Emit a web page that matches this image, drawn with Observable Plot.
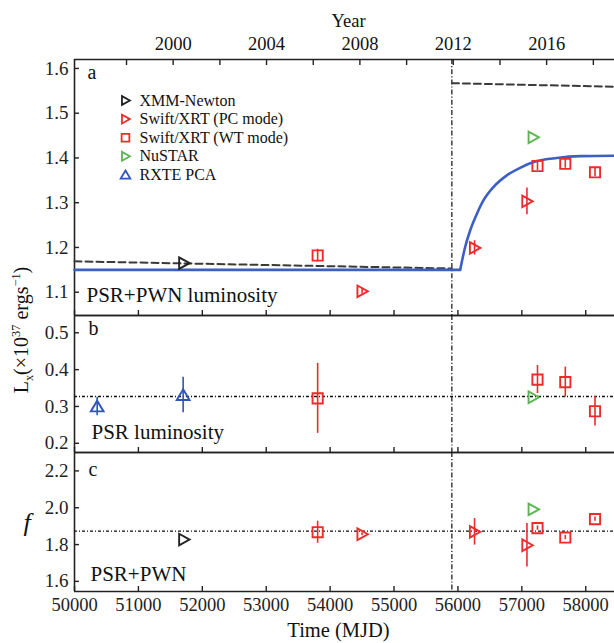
<!DOCTYPE html>
<html><head><meta charset="utf-8">
<script src="https://cdn.jsdelivr.net/npm/d3@7"></script>
<script src="https://cdn.jsdelivr.net/npm/@observablehq/plot@0.6"></script>
<style>
body{margin:0;background:#fff;}
#wrap{position:relative;width:614px;height:643px;font-family:"Liberation Serif",serif;color:#111;overflow:hidden;}
.panel{position:absolute;left:0;}
.lab{position:absolute;white-space:nowrap;font-family:"Liberation Serif",serif;color:#111;}
.sm{font-size:0.62em;}
</style></head><body><div id="wrap"></div>
<script>
// ---------- shared axes ----------
const xDomain = [50000, 58450];
const mjdTicks = [50000, 51000, 52000, 53000, 54000, 55000, 56000, 57000, 58000];
const yearTicks = [1998, 2000, 2002, 2004, 2006, 2008, 2010, 2012, 2014, 2016, 2018];
const yearLabels = [2000, 2004, 2008, 2012, 2016];
const glitchMJD = [55905];

// ---------- observation epochs (MJD) ----------
const xmmT = [51710];
const pcT = [54500, 56260, 57080];
const wtT = [53805, 57245, 57680, 58145];
const nuT = [57178];
const rxteT = [50355, 51700];

// ---------- panel a: PSR+PWN luminosity ----------
const aDomain = [1.048, 1.62];
const aTicks = [1.1, 1.2, 1.3, 1.4, 1.5, 1.6];
const xmmA = [1.165];
const pcA = [1.102, 1.199, 1.303];
const pcAerr = [0.006, 0.016, 0.030];
const wtA = [1.182, 1.382, 1.387, 1.368];
const wtAerr = [0.014, 0.010, 0.010, 0.010];
const nuA = [1.446];
const dashPreT = [50000, 55905];
const dashPreL = [1.169, 1.153];
const dashPostT = [55905, 57200, 58450];
const dashPostL = [1.567, 1.563, 1.559];
const modelFlatT = [50000, 56035];
const modelFlatL = [1.150, 1.150];
const modelRiseT = [56035, 56113, 56191, 56296, 56399, 56556, 56765, 56973, 57234, 57547, 57911, 58450];
const modelRiseL = [1.150, 1.201, 1.238, 1.275, 1.305, 1.335, 1.361, 1.378, 1.393, 1.400, 1.404, 1.405];

// ---------- panel b: PSR luminosity ----------
const bDomain = [0.175, 0.547];
const bTicks = [0.2, 0.3, 0.4, 0.5];
const bRef = [0.327];
const rxteB = [0.300, 0.331];
const rxteBerr = [0.025, 0.048];
const wtB = [0.322, 0.373, 0.366, 0.287];
const wtBerr = [0.095, 0.038, 0.041, 0.040];
const nuB = [0.325];

// ---------- panel c: flux ratio f ----------
const cDomain = [1.545, 2.30];
const cTicks = [1.6, 1.8, 2.0, 2.2];
const cRef = [1.873];
const xmmC = [1.827];
const pcC = [1.856, 1.869, 1.796];
const pcCerr = [0.008, 0.072, 0.118];
const wtC = [1.867, 1.889, 1.838, 1.938];
const wtCerr = [0.060, 0.012, 0.012, 0.012];
const nuC = [1.991];

// ---------- legend ----------
const legendNames = ["XMM-Newton", "Swift/XRT (PC mode)", "Swift/XRT (WT mode)", "NuSTAR", "RXTE PCA"];

// ---------- styling ----------
const RED = "#ee2b2b", GREEN = "#5cb552", BLUE = "#2f55b8", BLACK = "#222", LINEBLUE = "#3b5fc4";
const font = "Liberation Serif";

const triRight = {draw(c, s) { const r = Math.sqrt(s / Math.PI); c.moveTo(r, 0); c.lineTo(-0.8 * r, -r); c.lineTo(-0.8 * r, r); c.closePath(); }};
const triUp = {draw(c, s) { const r = Math.sqrt(s / Math.PI); c.moveTo(0, -r); c.lineTo(1.1 * r, 0.85 * r); c.lineTo(-1.1 * r, 0.85 * r); c.closePath(); }};
const square = {draw(c, s) { const r = Math.sqrt(s / Math.PI) * 0.88; c.rect(-r, -r, 2 * r, 2 * r); }};

const legendSymbols = [triRight, triRight, square, triRight, triUp];
const legendColors = [BLACK, RED, RED, GREEN, BLUE];

const zip = (t, v, e) => t.map((d, i) => ({t: d, v: v[i], e: e ? e[i] : 0}));
const mjdOfYear = y => (Date.UTC(y, 0, 1) - Date.UTC(1858, 10, 17)) / 86400000;

function frameMarks(yDomain) {
  return [
    Plot.ruleX([xDomain[0]], {stroke: BLACK, strokeWidth: 1.6}),
    Plot.ruleY(yDomain, {stroke: BLACK, strokeWidth: 1.6})
  ];
}
function yAxis(ticks, fmt) {
  return Plot.axisY({ticks, tickSize: -5, tickPadding: 11, tickFormat: fmt, label: null, color: BLACK, strokeWidth: 1.4, fontSize: 19});
}
function xAxisBottom(withLabels) {
  return Plot.axisX({anchor: "bottom", ticks: mjdTicks, tickSize: -5, tickPadding: 11,
    tickFormat: withLabels ? (d => String(d)) : (() => ""), label: null, color: BLACK, strokeWidth: 1.4, fontSize: 18.5});
}
function points(data, symbol, color, r) {
  return Plot.dot(data, {x: "t", y: "v", symbol, stroke: color, strokeWidth: 1.9, r: r || 5.8, fill: "none"});
}
function errs(data, color) {
  return Plot.ruleX(data, {x: "t", y1: d => d.v - d.e, y2: d => d.v + d.e, stroke: color, strokeWidth: 1.6});
}
function glitch() {
  return Plot.ruleX(glitchMJD, {stroke: "#111", strokeWidth: 1.2, strokeDasharray: "5,2,1.2,2"});
}
function panelText(s, anchor, dx, dy, size) {
  return Plot.text([s], {frameAnchor: anchor, dx, dy, textAnchor: "start", lineAnchor: "middle", fontSize: size, fill: "#111"});
}
function makePlot(height, marginTop, marginBottom, yDomain, marks) {
  return Plot.plot({
    width: 614, height, marginLeft: 74, marginRight: 0, marginTop, marginBottom,
    x: {domain: xDomain, axis: null},
    y: {domain: yDomain, axis: null},
    style: {fontFamily: font, fontSize: "18px", background: "transparent", overflow: "visible", color: BLACK},
    marks
  });
}

// ---------- panel a ----------
const legendMarks = legendNames.flatMap((name, i) => [
  Plot.dot([0], {frameAnchor: "top-left", dx: 51, dy: 41 + i * 18.6, symbol: legendSymbols[i], stroke: legendColors[i], strokeWidth: 1.8, r: 4.4, fill: "none"}),
  Plot.text([name], {frameAnchor: "top-left", dx: 65, dy: 41 + i * 18.6, textAnchor: "start", lineAnchor: "middle", fontSize: 16, fill: "#111"})
]);

const plotA = makePlot(320, 59, 5, aDomain, [
  ...frameMarks(aDomain),
  yAxis(aTicks, d => d.toFixed(1)),
  xAxisBottom(false),
  Plot.axisX({anchor: "top", ticks: yearTicks.map(mjdOfYear), tickSize: -5, tickFormat: () => "", label: null, color: BLACK, strokeWidth: 1.4}),
  Plot.text(yearLabels, {x: d => mjdOfYear(d), text: d => String(d), frameAnchor: "top", dy: -15, lineAnchor: "middle", fontSize: 18.5, fill: "#111"}),
  Plot.text(["Year"], {frameAnchor: "top", dx: 4, dy: -38, textAnchor: "middle", lineAnchor: "middle", fontSize: 18.5, fill: "#111"}),
  glitch(),
  Plot.line(zip(dashPreT, dashPreL), {x: "t", y: "v", stroke: "#3a3a3a", strokeWidth: 2, strokeDasharray: "7,4"}),
  Plot.line(zip(dashPostT, dashPostL), {x: "t", y: "v", stroke: "#3a3a3a", strokeWidth: 2, strokeDasharray: "7,4"}),
  Plot.line(zip(modelFlatT, modelFlatL), {x: "t", y: "v", stroke: LINEBLUE, strokeWidth: 2.6}),
  Plot.line(zip(modelRiseT, modelRiseL), {x: "t", y: "v", stroke: LINEBLUE, strokeWidth: 2.6, curve: "monotone-x"}),
  errs(zip(pcT, pcA, pcAerr), RED),
  errs(zip(wtT, wtA, wtAerr), RED),
  points(zip(xmmT, xmmA), triRight, BLACK),
  points(zip(pcT, pcA), triRight, RED),
  points(zip(wtT, wtA), square, RED),
  points(zip(nuT, nuA), triRight, GREEN),
  ...legendMarks,
  Plot.text(["a"], {frameAnchor: "top-left", dx: 13, dy: 13, textAnchor: "start", lineAnchor: "middle", fontSize: 20, fill: "#111"}),
  panelText("PSR+PWN luminosity", "bottom-left", 12, -20, 21)
]);

// ---------- panel b ----------
const plotB = makePlot(147, 5, 5, bDomain, [
  ...frameMarks(bDomain),
  yAxis(bTicks, d => d.toFixed(1)),
  xAxisBottom(false),
  glitch(),
  Plot.ruleY(bRef, {stroke: "#111", strokeWidth: 1.3, strokeDasharray: "3,2,1,2"}),
  errs(zip(rxteT, rxteB, rxteBerr), BLUE),
  errs(zip(wtT, wtB, wtBerr), RED),
  points(zip(rxteT, rxteB), triUp, BLUE),
  points(zip(wtT, wtB), square, RED),
  points(zip(nuT, nuB), triRight, GREEN),
  Plot.text(["b"], {frameAnchor: "top-left", dx: 14, dy: 13, textAnchor: "start", lineAnchor: "middle", fontSize: 20, fill: "#111"}),
  panelText("PSR luminosity", "bottom-left", 17, -20, 21)
]);

// ---------- panel c ----------
const plotC = makePlot(196, 5, 52, cDomain, [
  ...frameMarks(cDomain),
  yAxis(cTicks, d => d.toFixed(1)),
  xAxisBottom(true),
  glitch(),
  Plot.ruleY(cRef, {stroke: "#111", strokeWidth: 1.3, strokeDasharray: "3,2,1,2"}),
  errs(zip(pcT, pcC, pcCerr), RED),
  errs(zip(wtT, wtC, wtCerr), RED),
  points(zip(xmmT, xmmC), triRight, BLACK),
  points(zip(pcT, pcC), triRight, RED),
  points(zip(wtT, wtC), square, RED),
  points(zip(nuT, nuC), triRight, GREEN),
  Plot.text(["c"], {frameAnchor: "top-left", dx: 14, dy: 17, textAnchor: "start", lineAnchor: "middle", fontSize: 20, fill: "#111"}),
  panelText("PSR+PWN", "bottom-left", 16, -17, 21),
  Plot.text(["Time (MJD)"], {frameAnchor: "bottom", dx: -6, dy: 39, lineAnchor: "middle", fontSize: 20.5, fill: "#111"})
]);

const wrap = document.getElementById("wrap");
[[plotA, 0], [plotB, 310], [plotC, 447]].forEach(([p, top]) => {
  const d = document.createElement("div");
  d.className = "panel";
  d.style.top = top + "px";
  d.appendChild(p);
  wrap.appendChild(d);
});

const ylab = document.createElement("div");
ylab.className = "lab";
ylab.style.cssText += "left:23px;top:330px;font-size:20px;transform:translate(-50%,-50%) rotate(-90deg);";
ylab.innerHTML = 'L<sub class="sm">x</sub>(×10<sup class="sm">37</sup> ergs<sup class="sm">−1</sup>)';
wrap.appendChild(ylab);

const flab = document.createElement("div");
flab.className = "lab";
flab.style.cssText += "left:27px;top:523px;font-size:26px;font-style:italic;transform:translate(-50%,-50%);";
flab.textContent = "f";
wrap.appendChild(flab);
</script></body></html>
